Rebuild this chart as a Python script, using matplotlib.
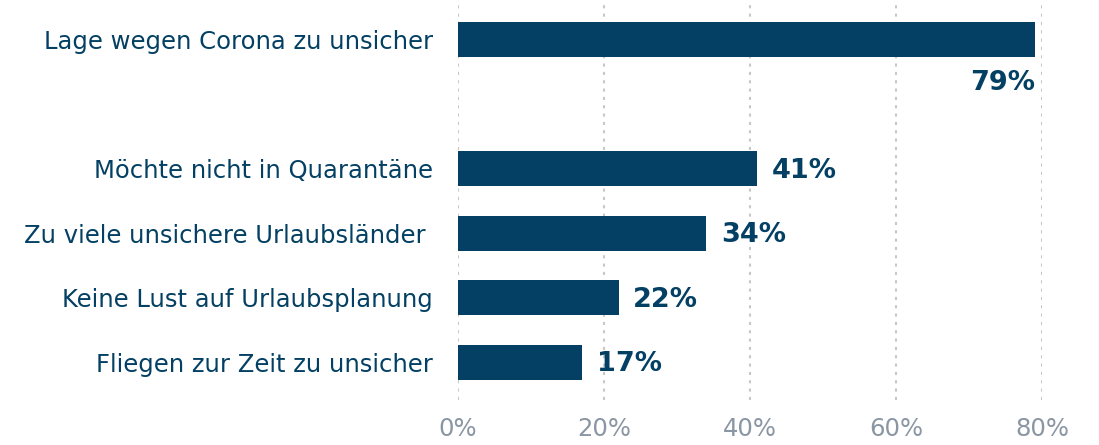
import matplotlib
matplotlib.use("Agg")
import matplotlib.pyplot as plt

categories = [
    "Lage wegen Corona zu unsicher",
    "Möchte nicht in Quarantäne",
    "Zu viele unsichere Urlaubsländer ",
    "Keine Lust auf Urlaubsplanung",
    "Fliegen zur Zeit zu unsicher",
]
values = [79, 41, 34, 22, 17]
positions = [0, 2, 3, 4, 5]
x_ticks = [0, 20, 40, 60, 80]
tick_labels = ["0%", "20%", "40%", "60%", "80%"]

BAR_COLOR = "#034063"
TICK_COLOR = "#8a96a3"

plt.rcParams['font.family'] = ['DejaVu Sans']

fig = plt.figure(figsize=(10.99, 4.45), dpi=100)
ax = fig.add_axes([458 / 1099, 1 - 400 / 445, (1042 - 458) / 1099, 395 / 445])

ax.barh(positions, values, height=0.54, color=BAR_COLOR, zorder=3)

# value labels: first one sits below the bar end, others to the right
for i, (p, v) in enumerate(zip(positions, values)):
    if i == 0:
        ax.text(v, p + 0.68, f"{v}%", ha="right", va="center",
                fontsize=19.5, fontweight="bold", color=BAR_COLOR)
    else:
        ax.text(v + 2.0, p + 0.03, f"{v}%", ha="left", va="center",
                fontsize=19.5, fontweight="bold", color=BAR_COLOR)

ax.set_xlim(0, 80)
ax.set_ylim(5.58, -0.535)
ax.set_xticks(x_ticks)
ax.set_xticklabels(tick_labels, fontsize=17.5, color=TICK_COLOR)
ax.set_yticks(positions)
ax.set_yticklabels(categories, fontsize=17.5, color=BAR_COLOR)
ax.tick_params(axis="x", length=0, pad=12)
ax.tick_params(axis="y", length=0, pad=18)

ax.grid(axis="x", linestyle=(0, (1.5, 2.5)), color="#c8c8c8", linewidth=1.5, zorder=0)
for s in ax.spines.values():
    s.set_visible(False)

fig.savefig("out.png", dpi=100)
